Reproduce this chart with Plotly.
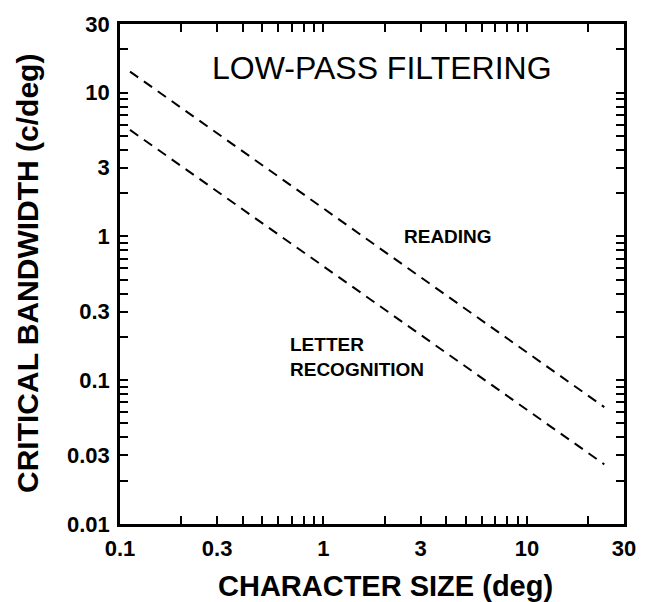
import plotly.graph_objects as go

# ---- data ----
char_size = [0.112, 24.0]          # deg
reading_bw = [14.0, 0.065]         # c/deg
letter_bw = [5.5, 0.026]           # c/deg

x_tick_vals = [0.1, 0.2, 0.3, 0.4, 0.5, 0.6, 0.7, 0.8, 0.9,
               1, 2, 3, 4, 5, 6, 7, 8, 9, 10, 20, 30]
x_tick_labels = {0.1: "0.1", 0.3: "0.3", 1: "1", 3: "3", 10: "10", 30: "30"}
y_tick_vals = [0.01, 0.02, 0.03, 0.04, 0.05, 0.06, 0.07, 0.08, 0.09,
               0.1, 0.2, 0.3, 0.4, 0.5, 0.6, 0.7, 0.8, 0.9,
               1, 2, 3, 4, 5, 6, 7, 8, 9, 10, 20, 30]
y_tick_labels = {0.01: "0.01", 0.03: "0.03", 0.1: "0.1", 0.3: "0.3",
                 1: "1", 3: "3", 10: "10", 30: "30"}

FONT = "Liberation Sans, Arial, Helvetica, sans-serif"

fig = go.Figure()
line_style = dict(color="black", width=2, dash="10px,7px")
fig.add_trace(go.Scatter(x=char_size, y=reading_bw, mode="lines",
                         line=line_style, name="Reading", showlegend=False))
fig.add_trace(go.Scatter(x=char_size, y=letter_bw, mode="lines",
                         line=line_style, name="Letter recognition", showlegend=False))

axis_common = dict(
    type="log", showgrid=False, zeroline=False,
    showline=True, linecolor="black", linewidth=2.5,
    mirror="allticks", ticks="inside", ticklen=8, tickwidth=2,
    tickcolor="black",
    tickfont=dict(family=FONT, size=22, color="black", weight="bold"),
)

fig.update_xaxes(
    **axis_common,
    range=[-1, 1.4771],
    tickvals=x_tick_vals,
    ticktext=[x_tick_labels.get(v, "") for v in x_tick_vals],
    ticklabelstandoff=3,
)
fig.update_yaxes(
    **axis_common,
    range=[-2, 1.4771],
    tickvals=y_tick_vals,
    ticktext=[y_tick_labels.get(v, "") for v in y_tick_vals],
    ticklabelstandoff=3,
)

annotations = [
    dict(text="LOW-PASS FILTERING", xref="paper", yref="paper",
         x=0.52, y=0.912, xanchor="center", yanchor="middle", showarrow=False,
         font=dict(family=FONT, size=32, color="black")),
    dict(text="READING", xref="paper", yref="paper",
         x=0.65, y=0.576, xanchor="center", yanchor="middle", showarrow=False,
         font=dict(family=FONT, size=19, color="black", weight="bold")),
    dict(text="LETTER<br>RECOGNITION", xref="paper", yref="paper",
         x=0.3327, y=0.335, xanchor="left", yanchor="middle", align="left",
         showarrow=False,
         font=dict(family=FONT, size=19, color="black", weight="bold")),
    dict(text="CRITICAL BANDWIDTH (c/deg)", xref="paper", yref="paper",
         x=0, y=0.5, xanchor="center", yanchor="middle", xshift=-93,
         textangle=-90, showarrow=False,
         font=dict(family=FONT, size=30, color="black", weight="bold")),
    dict(text="CHARACTER SIZE (deg)", xref="paper", yref="paper",
         x=0.5276, y=0, xanchor="center", yanchor="middle", yshift=-62,
         showarrow=False,
         font=dict(family=FONT, size=29, color="black", weight="bold")),
]

fig.update_layout(
    width=648, height=602,
    margin=dict(l=120, r=20, t=16, b=78),
    paper_bgcolor="white", plot_bgcolor="white",
    annotations=annotations,
    showlegend=False,
)

fig.write_html("out.html")
